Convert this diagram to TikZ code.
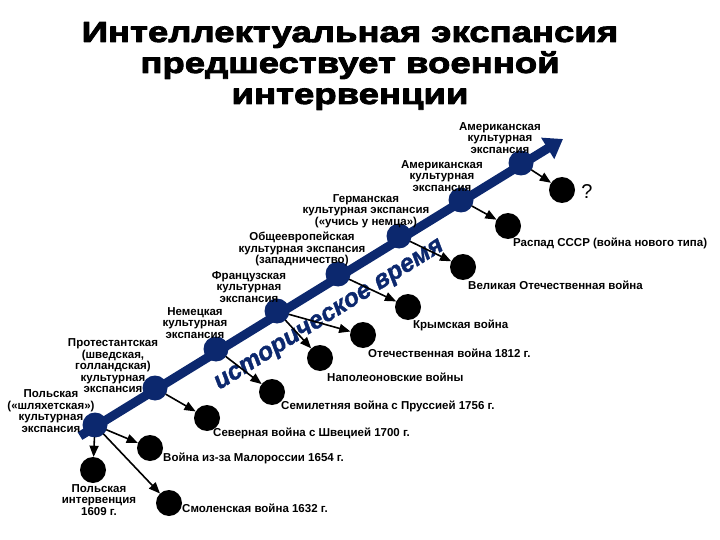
\documentclass[tikz,border=0pt]{standalone}
\usepackage{fontspec}
\setmainfont{Liberation Sans}
\newfontfamily\titlefont[FakeStretch=1.26,FakeBold=3]{Liberation Sans Bold}
\newfontfamily\timefont[FakeBold=1.5]{Liberation Sans Bold Italic}
\usetikzlibrary{arrows,arrows.meta}
\definecolor{navy}{RGB}{12,40,110}

\begin{document}
\begin{tikzpicture}[line cap=round,line join=round,>=triangle 45,x=1pt,y=-1pt]
\tikzset{
  bnode/.style={circle,fill=navy,minimum size=25pt,inner sep=0pt},
  dnode/.style={circle,fill=black,minimum size=26pt,inner sep=0pt},
  lbl/.style={font=\bfseries\fontsize{11.5}{11.5}\selectfont,align=center,inner sep=0pt},
  wlbl/.style={font=\bfseries\fontsize{11.5}{12}\selectfont,align=left,anchor=west,inner sep=0pt},
  link/.style={->,line width=1.6pt,black}
}
\useasboundingbox (0,0) rectangle (720,540);
% title
\node[font=\titlefont\fontsize{29}{31}\selectfont,align=center,inner sep=0pt] (title) at (350,66)
  {Интеллектуальная экспансия\\предшествует военной\\интервенции};
% time axis
\coordinate (a0) at (80,436);
\coordinate (a1) at (563,139);
\draw[navy,line width=9pt,line cap=butt,-{Triangle[length=18pt,width=24pt]}] (a0) -- (a1);
\node[navy,font=\timefont\fontsize{25}{25}\selectfont,rotate=32] (time) at (330,316) {историческое время};
% expansions
\node[bnode] (p1) at (95,425) {};
\node[bnode] (p2) at (155,388) {};
\node[bnode] (p3) at (216,349) {};
\node[bnode] (p4) at (277,311) {};
\node[bnode] (p5) at (338,274) {};
\node[bnode] (p6) at (399,236) {};
\node[bnode] (p7) at (461,200) {};
\node[bnode] (p8) at (521,163) {};
\node[lbl] (lp1) at (51,411) {Польская\\(«шляхетская»)\\культурная\\экспансия};
\node[lbl] (lp2) at (113,366) {Протестантская\\(шведская,\\голландская)\\культурная\\экспансия};
\node[lbl] (lp3) at (195,323) {Немецкая\\культурная\\экспансия};
\node[lbl] (lp4) at (249,287) {Французская\\культурная\\экспансия};
\node[lbl] (lp5) at (302,249) {Общеевропейская\\культурная экспансия\\(западничество)};
\node[lbl] (lp6) at (366,211) {Германская\\культурная экспансия\\(«учись у немца»)};
\node[lbl] (lp7) at (442,176) {Американская\\культурная\\экспансия};
\node[lbl] (lp8) at (500,138) {Американская\\культурная\\экспансия};
% wars
\node[dnode] (smol) at (169,503) {};
\node[dnode] (pint) at (93,470) {};
\node[dnode] (malo) at (150,448) {};
\node[dnode] (sev) at (207,418) {};
\node[dnode] (sem) at (272,392) {};
\node[dnode] (nap) at (320,358) {};
\node[dnode] (otech) at (363,335) {};
\node[dnode] (krym) at (408,307) {};
\node[dnode] (vov) at (463,267) {};
\node[dnode] (sssr) at (508,226) {};
\node[dnode] (next) at (562,190) {};
\node[wlbl] (lsmol) at (182,508) {Смоленская война 1632 г.};
\node[lbl] (lpint) at (99,500) {Польская\\интервенция\\1609 г.};
\node[wlbl] (lmalo) at (163,458) {Война из-за Малороссии 1654 г.};
\node[wlbl] (lsev) at (213,433) {Северная война с Швецией 1700 г.};
\node[wlbl] (lsem) at (281,406) {Семилетняя война с Пруссией 1756 г.};
\node[wlbl] (lnap) at (327,377) {Наполеоновские войны};
\node[wlbl] (lotech) at (368,353) {Отечественная война 1812 г.};
\node[wlbl] (lkrym) at (413,325) {Крымская война};
\node[wlbl] (lvov) at (468,285) {Великая Отечественная война};
\node[wlbl] (lsssr) at (513,243) {Распад СССР (война нового типа)};
\node[font=\fontsize{20}{20}\selectfont,inner sep=0pt] (q) at (587,192) {?};
% links
\draw[link] (p1) -- (pint);
\draw[link] (p1) -- (malo);
\draw[link] (p1) -- (smol);
\draw[link] (p2) -- (sev);
\draw[link] (p3) -- (sem);
\draw[link] (p4) -- (nap);
\draw[link] (p4) -- (otech);
\draw[link] (p5) -- (krym);
\draw[link] (p6) -- (vov);
\draw[link] (p7) -- (sssr);
\draw[link] (p8) -- (next);
\end{tikzpicture}
\end{document}
